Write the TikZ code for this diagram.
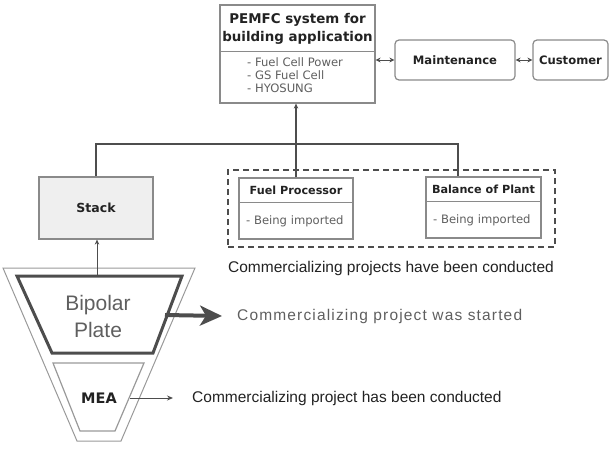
\documentclass[tikz,border=0pt]{standalone}
\usepackage{fontspec}
\setmainfont{Liberation Sans}
\newfontfamily\dvs{DejaVu Sans}
\newfontfamily\spacedfont[LetterSpace=7.5]{Liberation Sans}
\usetikzlibrary{arrows.meta,calc}
\definecolor{boxc}{HTML}{8A8A8A}
\definecolor{linec}{HTML}{4D4D4D}
\definecolor{txt}{HTML}{222222}
\definecolor{gtxt}{HTML}{5F5F5F}
\definecolor{stackc}{HTML}{EFEFEF}
\definecolor{func}{HTML}{999999}
\begin{document}
\begin{tikzpicture}[x=1pt,y=-1pt,
  box/.style={draw=boxc, line width=1.2pt, fill=white, inner sep=0pt},
  rbox/.style={box, rounded corners=4pt},
  divider/.style={draw=boxc, line width=1.2pt},
  hdr/.style={font=\dvs\bfseries\fontsize{11.2}{13}\selectfont, text=txt},
  sub/.style={font=\dvs\fontsize{11.6}{13}\selectfont, text=gtxt, anchor=west, inner sep=0pt},
  link/.style={draw=linec, line width=2pt},
  conn/.style={draw=linec, line width=1.2pt},
  dbl/.style={{Stealth[length=5pt,width=5pt]}-{Stealth[length=5pt,width=5pt]}, draw=linec, line width=1pt},
  caption/.style={font=\fontsize{15.5}{18}\selectfont, text=txt, inner sep=0pt}
]
\useasboundingbox (0,0) rectangle (611,450);

% top system box
\node[box, minimum width=155pt, minimum height=98pt] (pemfc) at (297.5,54) {};
\draw[divider] ($(pemfc.north west)+(0,47)$) -- ($(pemfc.north east)+(0,47)$);
\node[font=\dvs\bfseries\fontsize{13.4}{18}\selectfont, align=center, text=txt] (pemfcT) at (297.5,29) {PEMFC system for\\building application};
\node[sub, align=left, font=\dvs\fontsize{11.6}{13}\selectfont] (pemfcL) at (247,75.5) {- Fuel Cell Power\\- GS Fuel Cell\\- HYOSUNG};

\node[rbox, hdr, font=\dvs\bfseries\fontsize{11.6}{13}\selectfont, minimum width=120pt, minimum height=40pt] (maint) at (455,60) {Maintenance};
\node[rbox, hdr, font=\dvs\bfseries\fontsize{11.6}{13}\selectfont, minimum width=75pt, minimum height=40pt] (cust) at (570.5,60) {Customer};
\draw[dbl] (maint.west -| pemfc.east) -- (maint.west);
\draw[dbl] (maint.east) -- (cust.west);

% stack
\node[box, fill=stackc, minimum width=114pt, minimum height=62pt, font=\dvs\bfseries\fontsize{12.5}{14}\selectfont, text=txt] (stack) at (96,208) {Stack};

% dashed group
\node[draw=linec, line width=1.3pt, dash pattern=on 6pt off 4pt, minimum width=327pt, minimum height=77pt] (grp) at (391.5,208.5) {};

\node[box, minimum width=114pt, minimum height=61pt] (fp) at (296,208.5) {};
\draw[divider] ($(fp.north west)+(0,25)$) -- ($(fp.north east)+(0,25)$);
\node[hdr] (fpT) at (296,190.5) {Fuel Processor};
\node[sub] (fpS) at (246,221) {- Being imported};

\node[box, minimum width=115pt, minimum height=61pt] (bop) at (483.5,207.5) {};
\draw[divider] ($(bop.north west)+(0,25)$) -- ($(bop.north east)+(0,25)$);
\node[hdr] (bopT) at (483.5,189.5) {Balance of Plant};
\node[sub] (bopS) at (433,220) {- Being imported};

\node[caption] (cap1) at (391,268) {Commercializing projects have been conducted};

% connectors
\draw[link] (stack.north) -- ++(0,-32) -| ($(bop.north west)+(33,0)$);
\draw[conn, -{Stealth[length=5pt,width=4.5pt]}] (fp.north) -- (fp.north |- pemfc.south);

% funnel
\draw[draw=func, line width=1pt] (3,268) -- (195,268) -- (121,441) -- (77,441) -- cycle;
\draw[draw=linec, line width=3pt] (17,276) -- (182,276) -- (153,353) -- (52,353) -- cycle;
\draw[draw=func, line width=1.2pt] (53,363) -- (144,363) -- (115,431) -- (80,431) -- cycle;
\coordinate (bpTop) at (97,275);
\coordinate (bpRight) at (165,315);
\coordinate (meaRight) at (130,398);

\node[font=\fontsize{21}{27}\selectfont, text=gtxt, align=center] (bp) at (98,316) {Bipolar\\Plate};
\node[font=\dvs\bfseries\fontsize{14.5}{16}\selectfont, text=txt] (mea) at (99,398) {MEA};

\draw[conn, line width=1pt, -{Stealth[length=5pt,width=4.5pt]}] (bpTop) -- (stack.south -| bpTop);

\node[font=\spacedfont\fontsize{15.5}{18}\selectfont, text=gtxt, anchor=west, inner sep=0pt] (cap2) at (237,316) {Commercializing project was started};
\draw[draw=linec, line width=4pt, -{Stealth[length=22pt,width=20pt,inset=6pt]}] (bpRight) -- ($(cap2.west)+(-15,0)$);

\node[caption, anchor=west] (cap3) at (192,398) {Commercializing project has been conducted};
\draw[conn, line width=1pt, -{Stealth[length=6pt,width=5pt]}] (meaRight) -- ($(cap3.west)+(-19,0)$);
\end{tikzpicture}
\end{document}
